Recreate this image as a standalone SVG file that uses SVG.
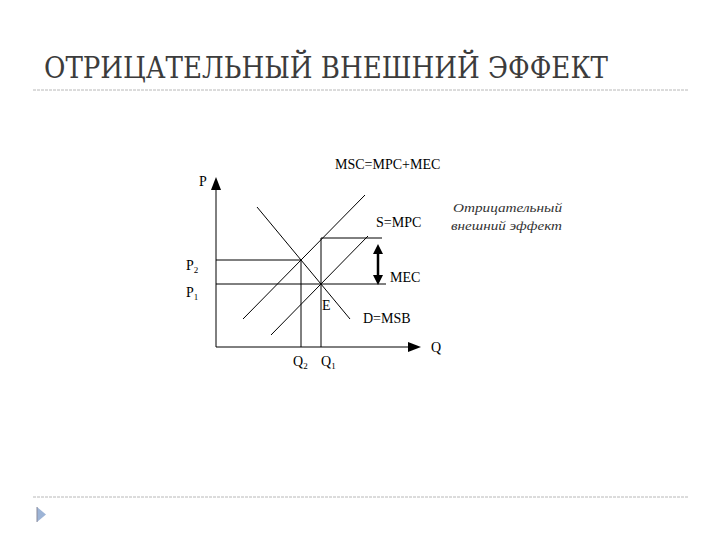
<svg xmlns="http://www.w3.org/2000/svg" width="720" height="540" viewBox="0 0 720 540">
<style>
.ln{stroke:#000;stroke-width:1;fill:none}
.lb{font-family:"Liberation Serif","Times New Roman",serif;font-size:14px;fill:#000}
.sb{font-size:9px}
.sep{stroke:#b8b8b8;stroke-width:1;stroke-dasharray:3 1;fill:none}
.it{font-family:"Liberation Serif","Times New Roman",serif;font-style:italic;font-size:12.5px;fill:#333}
.tt{font-family:"DejaVu Serif Condensed","DejaVu Serif","Liberation Serif",serif;font-stretch:condensed;font-size:30px;fill:#3c3c3c}
</style>
<rect width="720" height="540" fill="#fff"/>
<g id="title">
<text class="tt" x="44" y="78" textLength="564" lengthAdjust="spacingAndGlyphs">ОТРИЦАТЕЛЬНЫЙ ВНЕШНИЙ ЭФФЕКТ</text>
<line class="sep" x1="33" y1="90" x2="688" y2="90"/>
</g>
<g id="axes">
<line class="ln" x1="216" y1="347" x2="216" y2="188"/>
<path d="M216,177 L221,190 L211,190 Z" fill="#000"/>
<line class="ln" x1="216" y1="347" x2="408" y2="347"/>
<path d="M421,347 L408,342 L408,352 Z" fill="#000"/>
<text class="lb" x="199" y="186">P</text>
<text class="lb" x="431" y="352">Q</text>
</g>
<g id="connectors">
<line id="demand" class="ln" x1="257" y1="207" x2="350" y2="319"/>
<line id="msc" class="ln" x1="243" y1="319" x2="365" y2="195"/>
<line id="smpc" class="ln" x1="271" y1="335" x2="368" y2="236"/>
<line class="ln" x1="216" y1="260" x2="301" y2="260"/>
<line class="ln" x1="216" y1="284" x2="386" y2="284"/>
<line class="ln" x1="321" y1="238" x2="382" y2="238"/>
<line class="ln" x1="301" y1="260" x2="301" y2="347"/>
<line class="ln" x1="321" y1="238" x2="321" y2="347"/>
<path d="M378,244 L383,254 L373,254 Z M378,285 L383,275 L373,275 Z" fill="#000"/>
<line x1="378" y1="252" x2="378" y2="277" stroke="#000" stroke-width="2.5"/>
</g>
<g id="labels">
<text class="lb" x="335" y="169">MSC=MPC+MEC</text>
<text class="lb" x="376" y="227">S=MPC</text>
<text class="lb" x="390" y="282">MEC</text>
<text class="lb" x="322" y="310">E</text>
<text class="lb" x="363" y="323">D=MSB</text>
<text class="lb" x="186" y="270">P<tspan class="sb" dy="3">2</tspan></text>
<text class="lb" x="186" y="297">P<tspan class="sb" dy="3">1</tspan></text>
<text class="lb" x="293" y="366">Q<tspan class="sb" dy="3">2</tspan></text>
<text class="lb" x="321" y="366">Q<tspan class="sb" dy="3">1</tspan></text>
</g>
<g id="note">
<text class="it" x="453" y="212" textLength="109" lengthAdjust="spacingAndGlyphs">Отрицательный</text>
<text class="it" x="451" y="230" textLength="111" lengthAdjust="spacingAndGlyphs">внешний эффект</text>
</g>
<g id="footer">
<line class="sep" x1="33" y1="497" x2="688" y2="497"/>
<path d="M37,507 L46,514.5 L37,522 Z" fill="#9db4d6"/>
<line x1="37" y1="507" x2="37" y2="522" stroke="#8a8a9a" stroke-width="1"/>
</g>
</svg>
